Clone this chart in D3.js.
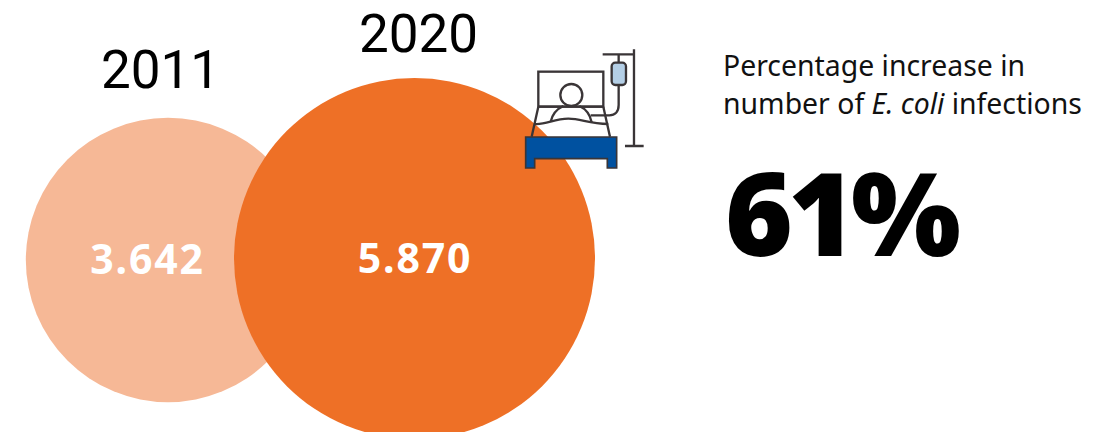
<!DOCTYPE html>
<html>
<head>
<meta charset="utf-8">
<script src="https://cdn.jsdelivr.net/npm/d3@7"></script>
<style>
  html, body { margin: 0; padding: 0; background: #fff; }
  svg { display: block; }
  text { font-family: "Noto Sans", sans-serif; }
</style>
</head>
<body>
<svg id="chart" width="1100" height="432"></svg>
<script>
// E. coli infection counts, shown as circles whose area follows the count
const years = ["2011", "2020"];
const infections = [3642, 5870];
const valueLabels = ["3.642", "5.870"];
const increaseLabel = "61%";

const svg = d3.select("#chart");

const radius = d3.scaleSqrt().domain([0, 5870]).range([0, 180.5]);
const centreX = d3.scaleOrdinal().domain(years).range([168, 414.5]);
const centreY = d3.scaleOrdinal().domain(years).range([260, 258.5]);
const fill = d3.scaleOrdinal().domain(years).range(["#f6b896", "#ee7026"]);

const rows = years.map((year, i) => ({ year, value: infections[i], label: valueLabels[i] }));

svg.selectAll("circle.bubble").data(rows).join("circle")
  .attr("class", "bubble")
  .attr("cx", d => centreX(d.year))
  .attr("cy", d => centreY(d.year))
  .attr("r", d => radius(d.value))
  .attr("fill", d => fill(d.year));

svg.selectAll("text.value").data(rows).join("text")
  .attr("class", "value")
  .attr("x", (d, i) => [147.5, 415][i])
  .attr("y", (d, i) => [273.5, 272.5][i])
  .attr("text-anchor", "middle")
  .attr("font-size", 41)
  .attr("font-weight", 700)
  .attr("letter-spacing", 1.8)
  .attr("fill", "#fff")
  .text(d => d.label);

// Year labels use Roboto, whose shorter ascent keeps the upper label inside the frame
svg.selectAll("text.year").data(rows).join("text")
  .attr("class", "year")
  .attr("x", (d, i) => [160.5, 418.5][i])
  .attr("y", (d, i) => [87.5, 52.3][i])
  .attr("text-anchor", "middle")
  .style("font-family", "Roboto, sans-serif")
  .attr("font-size", 53)
  .attr("font-weight", 400)
  .attr("fill", "#000")
  .text(d => d.year);

// Caption and headline figure
const caption = svg.append("g").attr("font-size", 28.4).attr("fill", "#111");
caption.append("text").attr("x", 723).attr("y", 76).text("Percentage increase in");
const line2 = caption.append("text").attr("x", 723).attr("y", 114);
line2.append("tspan").text("number of ");
line2.append("tspan").attr("font-style", "italic").text("E. coli");
line2.append("tspan").text(" infections");

svg.append("text")
  .attr("x", 725).attr("y", 256)
  .attr("font-size", 116)
  .attr("font-weight", 900)
  .attr("letter-spacing", -5)
  .attr("fill", "#000")
  .text(increaseLabel);

// Hospital bed pictogram with drip stand
const icon = svg.append("g").attr("transform", "translate(510,40) scale(0.3333)");
const ink = "#3a3537";
const outline = sel => sel.attr("fill", "none").attr("stroke", ink).attr("stroke-width", 7);

outline(icon.append("rect")).attr("x", 85).attr("y", 95).attr("width", 195).attr("height", 105).attr("fill", "#fff");
outline(icon.append("path")).attr("d", "M85,200 L65,290 M280,200 L300,290 M85,200 H280");
outline(icon.append("circle")).attr("cx", 184).attr("cy", 165).attr("r", 33).attr("fill", "#fff");
outline(icon.append("path")).attr("d", "M122,245 C128,218 145,205 160,198 M208,198 C226,206 240,222 245,247");
outline(icon.append("path")).attr("d", "M73,252 C110,255 130,236 175,236 C215,236 235,252 295,252");
outline(icon.append("path")).attr("d", "M326,135 V195 C326,215 315,226 298,226 H242");
outline(icon.append("path")).attr("d", "M372,28 V318 M345,318 H401 M278,43 H372 M326,43 V68");
outline(icon.append("rect")).attr("x", 305).attr("y", 68).attr("width", 43).attr("height", 67).attr("rx", 11).attr("fill", "#b4cfe6");
icon.append("path")
  .attr("d", "M47,291 H320 V384 H292 V356 H74 V384 H47 Z")
  .attr("fill", "#0051a0").attr("stroke", ink).attr("stroke-width", 5);
</script>
</body>
</html>
